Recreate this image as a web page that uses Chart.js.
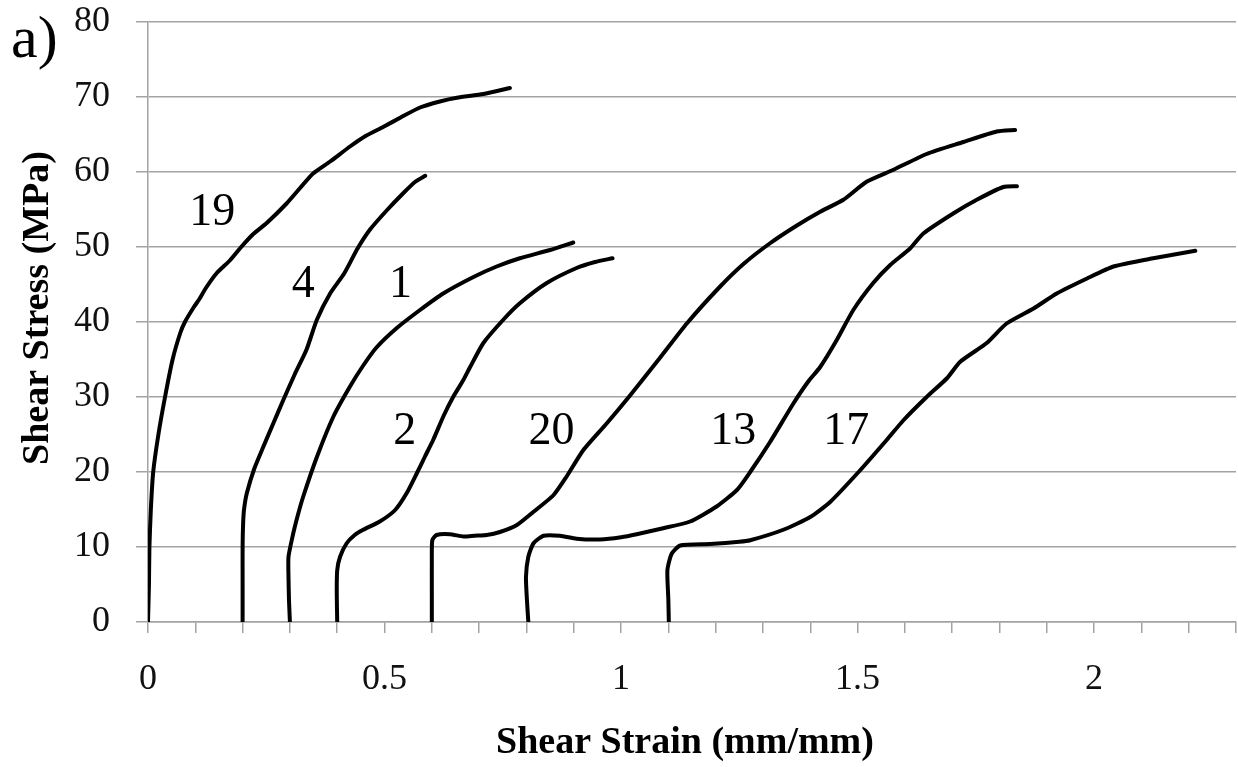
<!DOCTYPE html>
<html>
<head>
<meta charset="utf-8">
<script src="https://cdn.jsdelivr.net/npm/chart.js@4.4.1/dist/chart.umd.min.js"></script>
<style>
  html, body { margin: 0; padding: 0; background: #ffffff; }
  #c { display: block; }
</style>
</head>
<body>
<canvas id="c" width="1238" height="767"></canvas>
<script>
// ---- Data (shear strain mm/mm, shear stress MPa) ----
const strain19 = [0, 0.002, 0.003, 0.006, 0.011, 0.022, 0.036, 0.052, 0.068, 0.078, 0.097, 0.108, 0.122, 0.145, 0.173, 0.197, 0.222, 0.251, 0.293, 0.322, 0.349, 0.385, 0.427, 0.460, 0.497, 0.535, 0.575, 0.617, 0.653, 0.709, 0.765];
const stress19 = [0, 5, 10, 15, 20, 25, 30, 35, 38.5, 40, 42, 43, 44.5, 46.5, 48.2, 50, 51.7, 53.2, 55.8, 57.9, 59.8, 61.4, 63.4, 64.8, 66.0, 67.3, 68.6, 69.4, 69.9, 70.4, 71.2];

const strain4 = [0.200, 0.200, 0.200, 0.201, 0.203, 0.209, 0.225, 0.244, 0.265, 0.286, 0.310, 0.335, 0.357, 0.385, 0.415, 0.443, 0.469, 0.505, 0.540, 0.565, 0.586];
const stress4 = [0, 5, 10, 13, 15, 17.2, 20.5, 23.4, 26.5, 29.6, 33.0, 36.3, 40.3, 43.8, 46.5, 49.8, 52.3, 54.9, 57.2, 58.7, 59.5];

const strain1 = [0.300, 0.298, 0.297, 0.297, 0.307, 0.317, 0.328, 0.357, 0.392, 0.427, 0.455, 0.483, 0.526, 0.575, 0.624, 0.688, 0.737, 0.786, 0.850, 0.899];
const stress1 = [0, 3, 6, 8.7, 11.8, 14.3, 16.7, 22.0, 27.4, 31.4, 34.2, 36.6, 39.2, 41.6, 43.8, 46.0, 47.4, 48.5, 49.6, 50.6];

const strain2 = [0.400, 0.399, 0.400, 0.406, 0.420, 0.437, 0.455, 0.490, 0.522, 0.547, 0.568, 0.585, 0.603, 0.625, 0.645, 0.667, 0.681, 0.709, 0.751, 0.786, 0.843, 0.906, 0.945, 0.982];
const stress2 = [0, 4, 6.9, 8.7, 10.5, 11.6, 12.3, 13.4, 14.9, 17.2, 19.8, 22.0, 24.3, 27.5, 30.0, 32.3, 34.0, 37.2, 40.3, 42.5, 45.2, 47.2, 48.0, 48.5];

const strain20 = [0.600, 0.600, 0.600, 0.601, 0.610, 0.638, 0.667, 0.690, 0.716, 0.744, 0.779, 0.815, 0.857, 0.885, 0.920, 0.970, 1.019, 1.082, 1.139, 1.209, 1.260, 1.315, 1.370, 1.421, 1.470, 1.519, 1.576, 1.646, 1.724, 1.794, 1.833];
const stress20 = [0, 4, 8.3, 10.9, 11.6, 11.7, 11.4, 11.5, 11.6, 12.0, 12.9, 14.7, 16.9, 19.4, 22.9, 26.5, 30.2, 35.2, 39.8, 44.7, 47.8, 50.5, 52.8, 54.7, 56.3, 58.7, 60.3, 62.4, 64.0, 65.4, 65.6];

const strain13 = [0.804, 0.801, 0.799, 0.804, 0.815, 0.836, 0.871, 0.906, 0.956, 1.000, 1.033, 1.089, 1.146, 1.202, 1.245, 1.273, 1.315, 1.364, 1.395, 1.421, 1.456, 1.491, 1.533, 1.569, 1.611, 1.639, 1.703, 1.752, 1.808, 1.837];
const stress13 = [0, 3, 6, 8.7, 10.5, 11.5, 11.5, 11.1, 11.0, 11.3, 11.7, 12.5, 13.4, 15.4, 17.6, 20.0, 24.0, 29.1, 32.0, 34.0, 37.6, 41.6, 45.2, 47.6, 49.8, 51.8, 54.5, 56.3, 58.0, 58.1];

const strain17 = [1.101, 1.100, 1.098, 1.107, 1.125, 1.188, 1.250, 1.273, 1.343, 1.400, 1.442, 1.505, 1.562, 1.597, 1.646, 1.689, 1.717, 1.773, 1.815, 1.872, 1.921, 1.985, 2.041, 2.125, 2.214];
const stress17 = [0, 3, 6.9, 9.1, 10.2, 10.4, 10.7, 10.9, 12.3, 14.0, 16.0, 20.2, 24.3, 26.9, 30.0, 32.5, 34.7, 37.2, 39.8, 41.8, 43.8, 45.8, 47.4, 48.5, 49.5];

// curve labels and where they sit (data coordinates)
const curveNames = ['19', '4', '1', '2', '20', '13', '17'];
const curveLabelX = [0.136, 0.328, 0.534, 0.543, 0.853, 1.237, 1.476];
const curveLabelY = [54.6, 45.0, 45.0, 25.3, 25.3, 25.3, 25.3];

// axes
const xTitle = 'Shear Strain (mm/mm)';
const yTitle = 'Shear Stress (MPa)';
const xMin = 0, xMax = 2.3, xStep = 0.1, xLabelEvery = 0.5;
const yMin = 0, yMax = 80, yStep = 10;
const panelLabel = 'a)';

// ---- Chart ----
const seriesX = [strain19, strain4, strain1, strain2, strain20, strain13, strain17];
const seriesY = [stress19, stress4, stress1, stress2, stress20, stress13, stress17];

const SERIF = '"Liberation Serif", "Times New Roman", serif';
const GRID = '#a3a3a3';

const datasets = seriesX.map((xs, i) => ({
  label: curveNames[i],
  data: xs.map((v, j) => ({ x: v, y: seriesY[i][j] })),
  showLine: true,
  borderColor: '#000000',
  backgroundColor: '#000000',
  borderWidth: 4,
  pointRadius: 0,
  pointHoverRadius: 0,
  tension: 0.2,
  fill: false,
  borderCapStyle: 'round',
  borderJoinStyle: 'round'
}));

// nudge an axis title by (dx, dy) pixels while still drawing it with Chart.js
function shiftTitle(scale, dx, dy) {
  scale.drawTitle = function () {
    const ctx = this.ctx;
    ctx.save();
    ctx.translate(dx, dy);
    Chart.Scale.prototype.drawTitle.call(this);
    ctx.restore();
  };
}

const labelPlugin = {
  id: 'curveLabels',
  afterDatasetsDraw(chart) {
    const { ctx, scales } = chart;
    const xs = scales.x, ys = scales.y;
    ctx.save();
    ctx.fillStyle = '#000000';
    ctx.font = '46px ' + SERIF;
    ctx.textAlign = 'center';
    ctx.textBaseline = 'middle';
    curveNames.forEach((n, i) => {
      ctx.fillText(n, xs.getPixelForValue(curveLabelX[i]), ys.getPixelForValue(curveLabelY[i]));
    });
    ctx.font = '60px ' + SERIF;
    ctx.textAlign = 'left';
    ctx.textBaseline = 'alphabetic';
    ctx.fillText(panelLabel, 11, 57);
    ctx.restore();
  }
};

new Chart(document.getElementById('c'), {
  type: 'scatter',
  data: { datasets },
  plugins: [labelPlugin],
  options: {
    responsive: false,
    devicePixelRatio: 1,
    animation: false,
    layout: { padding: { left: 0, right: 2, top: 22, bottom: 0 } },
    plugins: {
      legend: { display: false },
      tooltip: { enabled: false },
      title: { display: false }
    },
    scales: {
      x: {
        type: 'linear',
        min: xMin,
        max: xMax,
        afterFit(scale) {
          scale.height = 145;
          scale.paddingLeft = 0;
          scale.paddingRight = 0;
          shiftTitle(scale, -7, 3);
        },
        grid: {
          display: true,
          drawOnChartArea: false,
          drawTicks: true,
          tickLength: 11,
          color: GRID,
          lineWidth: 1.5
        },
        border: { display: true, color: GRID, width: 1.5 },
        ticks: {
          stepSize: xStep,
          autoSkip: false,
          maxRotation: 0,
          minRotation: 0,
          padding: 25,
          color: '#111111',
          font: { family: SERIF, size: 36 },
          callback(v) {
            const k = v / xLabelEvery;
            if (Math.abs(k - Math.round(k)) < 1e-6) return String(Math.round(v * 10) / 10);
            return '';
          }
        },
        title: {
          display: true,
          text: xTitle,
          color: '#000000',
          font: { family: SERIF, size: 38, weight: 'bold' },
          padding: { top: 0, bottom: 4 }
        }
      },
      y: {
        type: 'linear',
        min: yMin,
        max: yMax,
        afterFit(scale) {
          scale.width = 148;
          scale.paddingTop = 0;
          scale.paddingBottom = 0;
          shiftTitle(scale, 0, -14);
        },
        grid: {
          display: true,
          drawOnChartArea: true,
          drawTicks: true,
          tickLength: 12,
          color: GRID,
          lineWidth: 1.5
        },
        border: { display: true, color: GRID, width: 1.5 },
        ticks: {
          stepSize: yStep,
          padding: 26,
          color: '#111111',
          font: { family: SERIF, size: 36 }
        },
        title: {
          display: true,
          text: yTitle,
          color: '#000000',
          font: { family: SERIF, size: 38, weight: 'bold' },
          padding: { top: 15, bottom: 0 }
        }
      }
    }
  }
});
</script>
</body>
</html>
